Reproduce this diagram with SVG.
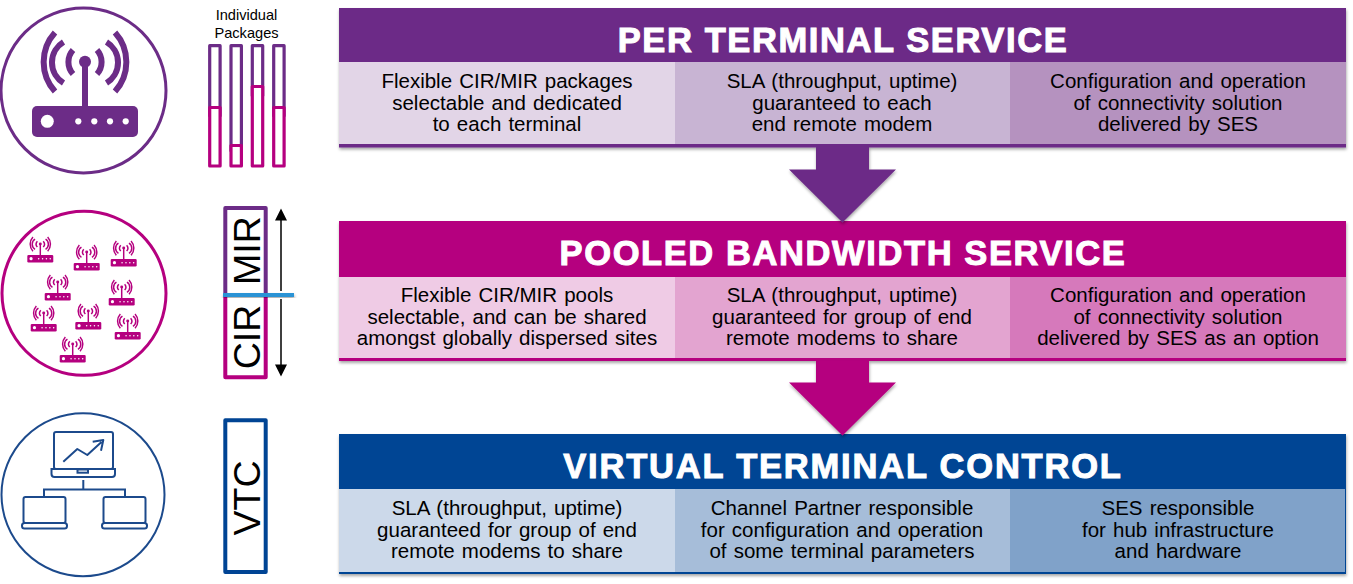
<svg xmlns="http://www.w3.org/2000/svg" width="1353" height="584" viewBox="0 0 1353 584">
<style>
text{font-family:"Liberation Sans",Arial,sans-serif;fill:#000}
.h{font-size:34.5px;font-weight:700;fill:#fff;stroke:#fff;stroke-width:1;text-anchor:middle;letter-spacing:1.6px}
.b{font-size:20.5px;text-anchor:middle;word-spacing:1.4px}
.v{font-size:37.5px;text-anchor:middle}
.pk{font-size:14.6px;text-anchor:middle}
.ring{fill:#fff;stroke-width:3}
.p,.m,.box{fill:#fff;stroke-linejoin:round}
.p,.m{stroke-width:3.2}
.box{stroke-width:4}
.p{stroke:#6c2c87}
.m{stroke:#b5007f}
.shadow{filter:url(#sh)}
</style>
<defs>
<filter id="sh" x="-5%" y="-5%" width="110%" height="115%"><feDropShadow dx="0.5" dy="2" stdDeviation="1.6" flood-color="#000" flood-opacity="0.35"/></filter>
<g id="router">
<g fill="none" stroke="currentColor" stroke-width="6">
<path d="M-12 -74A18 18 0 0 0 -12 -50"/>
<path d="M12 -74A18 18 0 0 1 12 -50"/>
<path d="M-21.500 -82A24 24 0 0 0 -21.500 -41"/>
<path d="M21.500 -82A24 24 0 0 1 21.500 -41"/>
<path d="M-30 -91.500A44 44 0 0 0 -30 -32.500"/>
<path d="M30 -91.500A44 44 0 0 1 30 -32.500"/>
</g>
<circle cx="0" cy="-62.300" r="6" fill="currentColor"/>
<rect x="-3" y="-62" width="6" height="46" fill="currentColor"/>
<rect x="-53" y="-18" width="106" height="31" rx="5" fill="currentColor"/>
<circle cx="-37.700" cy="-2.700" r="6.500" fill="#fff"/>
<circle cx="-6.700" cy="-2.700" r="3.100" fill="#fff"/>
<circle cx="9.300" cy="-2.700" r="3.100" fill="#fff"/>
<circle cx="25" cy="-2.700" r="3.100" fill="#fff"/>
<circle cx="40.700" cy="-2.700" r="3.100" fill="#fff"/>
</g>
</defs>

<g id="panel-per-terminal">
<rect x="339" y="8" width="1007" height="139.500" fill="#6c2c87" class="shadow"/>
<rect x="339" y="62" width="336" height="82" fill="#e2d5e7"/>
<rect x="675" y="62" width="335" height="82" fill="#c8b4d3"/>
<rect x="1010" y="62" width="336" height="82" fill="#b592bf"/>
<text class="h" x="843" y="51.500">PER TERMINAL SERVICE</text>
<text class="b" x="507" y="88">Flexible CIR/MIR packages</text>
<text class="b" x="507" y="110">selectable and dedicated</text>
<text class="b" x="507" y="131">to each terminal</text>
<text class="b" x="842" y="88">SLA (throughput, uptime)</text>
<text class="b" x="842" y="110">guaranteed to each</text>
<text class="b" x="842" y="131">end remote modem</text>
<text class="b" x="1178" y="88">Configuration and operation</text>
<text class="b" x="1178" y="110">of connectivity solution</text>
<text class="b" x="1178" y="131">delivered by SES</text>
</g>

<g id="panel-pooled">
<rect x="339" y="221" width="1007" height="140" fill="#b5007f" class="shadow"/>
<rect x="339" y="277" width="336" height="81" fill="#efcbe5"/>
<rect x="675" y="277" width="335" height="81" fill="#e3a4d0"/>
<rect x="1010" y="277" width="336" height="81" fill="#d679bb"/>
<text class="h" x="843" y="265">POOLED BANDWIDTH SERVICE</text>
<text class="b" x="507" y="302">Flexible CIR/MIR pools</text>
<text class="b" x="507" y="324">selectable, and can be shared</text>
<text class="b" x="507" y="345">amongst globally dispersed sites</text>
<text class="b" x="842" y="302">SLA (throughput, uptime)</text>
<text class="b" x="842" y="324">guaranteed for group of end</text>
<text class="b" x="842" y="345">remote modems to share</text>
<text class="b" x="1178" y="302">Configuration and operation</text>
<text class="b" x="1178" y="324">of connectivity solution</text>
<text class="b" x="1178" y="345">delivered by SES as an option</text>
</g>

<g id="panel-vtc">
<rect x="339" y="434" width="1007" height="140" fill="#004494" class="shadow"/>
<rect x="339" y="489" width="336" height="83" fill="#ccd9ea"/>
<rect x="675" y="489" width="335" height="83" fill="#a6bdd9"/>
<rect x="1010" y="489" width="335" height="83" fill="#80a2c9"/>
<text class="h" x="843" y="478" style="letter-spacing:1.8px">VIRTUAL TERMINAL CONTROL</text>
<text class="b" x="507" y="515">SLA (throughput, uptime)</text>
<text class="b" x="507" y="537">guaranteed for group of end</text>
<text class="b" x="507" y="558">remote modems to share</text>
<text class="b" x="842" y="515">Channel Partner responsible</text>
<text class="b" x="842" y="537">for configuration and operation</text>
<text class="b" x="842" y="558">of some terminal parameters</text>
<text class="b" x="1178" y="515">SES responsible</text>
<text class="b" x="1178" y="537">for hub infrastructure</text>
<text class="b" x="1178" y="558">and hardware</text>
</g>

<g id="connectors">
<path id="arrow-1" class="shadow" d="M816 147H869V169.500H896L842.500 222.500L789 169.500H816Z" fill="#6c2c87"/>
<path id="arrow-2" class="shadow" d="M816 361H869V382.500H896L842.500 435.500L789 382.500H816Z" fill="#b5007f"/>
</g>

<g id="icon-router">
<circle class="ring" cx="83.500" cy="90.500" r="82.500" stroke="#6c2c87"/>
<use href="#router" x="85" y="124" style="color:#6c2c87"/>
</g>

<g id="icon-fleet">
<circle class="ring" cx="84" cy="293.300" r="82" stroke="#b5007f"/>
<g style="color:#b5007f">
<use href="#router" transform="translate(40.300 259.300) scale(.245)"/>
<use href="#router" transform="translate(86.700 267.300) scale(.245)"/>
<use href="#router" transform="translate(123.700 263.300) scale(.245)"/>
<use href="#router" transform="translate(57.700 297.300) scale(.245)"/>
<use href="#router" transform="translate(121.700 302.300) scale(.245)"/>
<use href="#router" transform="translate(43.700 328.300) scale(.245)"/>
<use href="#router" transform="translate(88.300 326.300) scale(.245)"/>
<use href="#router" transform="translate(127.700 336.300) scale(.245)"/>
<use href="#router" transform="translate(72.700 359.300) scale(.245)"/>
</g>
</g>

<g id="packages">
<text class="pk" x="246.500" y="20">Individual</text>
<text class="pk" x="246.500" y="38">Packages</text>
<g id="package-1"><rect class="p" x="209.700" y="45.700" width="10.400" height="70"/><rect class="m" x="209.700" y="107.500" width="10.400" height="58.500"/></g>
<g id="package-2"><rect class="p" x="231" y="45.700" width="10.400" height="105"/><rect class="m" x="231" y="145.500" width="10.400" height="20.500"/></g>
<g id="package-3"><rect class="p" x="252.300" y="45.700" width="10.400" height="50"/><rect class="m" x="252.300" y="86.500" width="10.400" height="79.500"/></g>
<g id="package-4"><rect class="p" x="273.700" y="45.700" width="10.400" height="70"/><rect class="m" x="273.700" y="107.500" width="10.400" height="58.500"/></g>
</g>

<g id="cir-mir">
<rect class="box" x="225.300" y="208" width="40.400" height="87" stroke="#6c2c87"/>
<rect class="box" x="225.300" y="295" width="40.400" height="82.300" stroke="#b5007f"/>
<text class="v" transform="translate(260 250.500) rotate(-90)">MIR</text>
<text class="v" transform="translate(260 337) rotate(-90)">CIR</text>
<path d="M281 215V291M281 299V370" stroke="#000" stroke-width="1.500" fill="none"/>
<path d="M281 208.500L287 220.500H275Z M281 376.500L287 364.500H275Z" fill="#000"/>
<rect x="223" y="293" width="71" height="4" fill="#2a93d5" class="shadow"/>
</g>

<g id="vtc-label">
<rect class="box" x="225.300" y="420.300" width="40.400" height="151.700" stroke="#004494"/>
<text class="v" transform="translate(260 498) rotate(-90)">VTC</text>
</g>

<g id="icon-network" fill="none" stroke="#1c4a8c" stroke-width="2">
<circle cx="83" cy="494.700" r="81.500" fill="#fff"/>
<rect x="54" y="432" width="59" height="37" rx="2"/>
<path d="M51.500 469H115V474A3 3 0 0 1 112 477H54.500A3 3 0 0 1 51.500 474Z"/>
<rect x="77.500" y="469.500" width="10.500" height="3.200"/>
<path d="M63.300 461.700L77.300 449L87.300 455L101.500 442M92.700 441.700L103.300 440L101 450.700" stroke-linejoin="round"/>
<path d="M83.300 480V489.500M44 497V489.500H125V497"/>
<rect x="23.500" y="497" width="42" height="26" rx="2"/>
<rect x="22" y="523" width="45" height="5.500" rx="2.500"/>
<rect x="103.500" y="497" width="42" height="26" rx="2"/>
<rect x="102" y="523" width="45" height="5.500" rx="2.500"/>
</g>
</svg>
